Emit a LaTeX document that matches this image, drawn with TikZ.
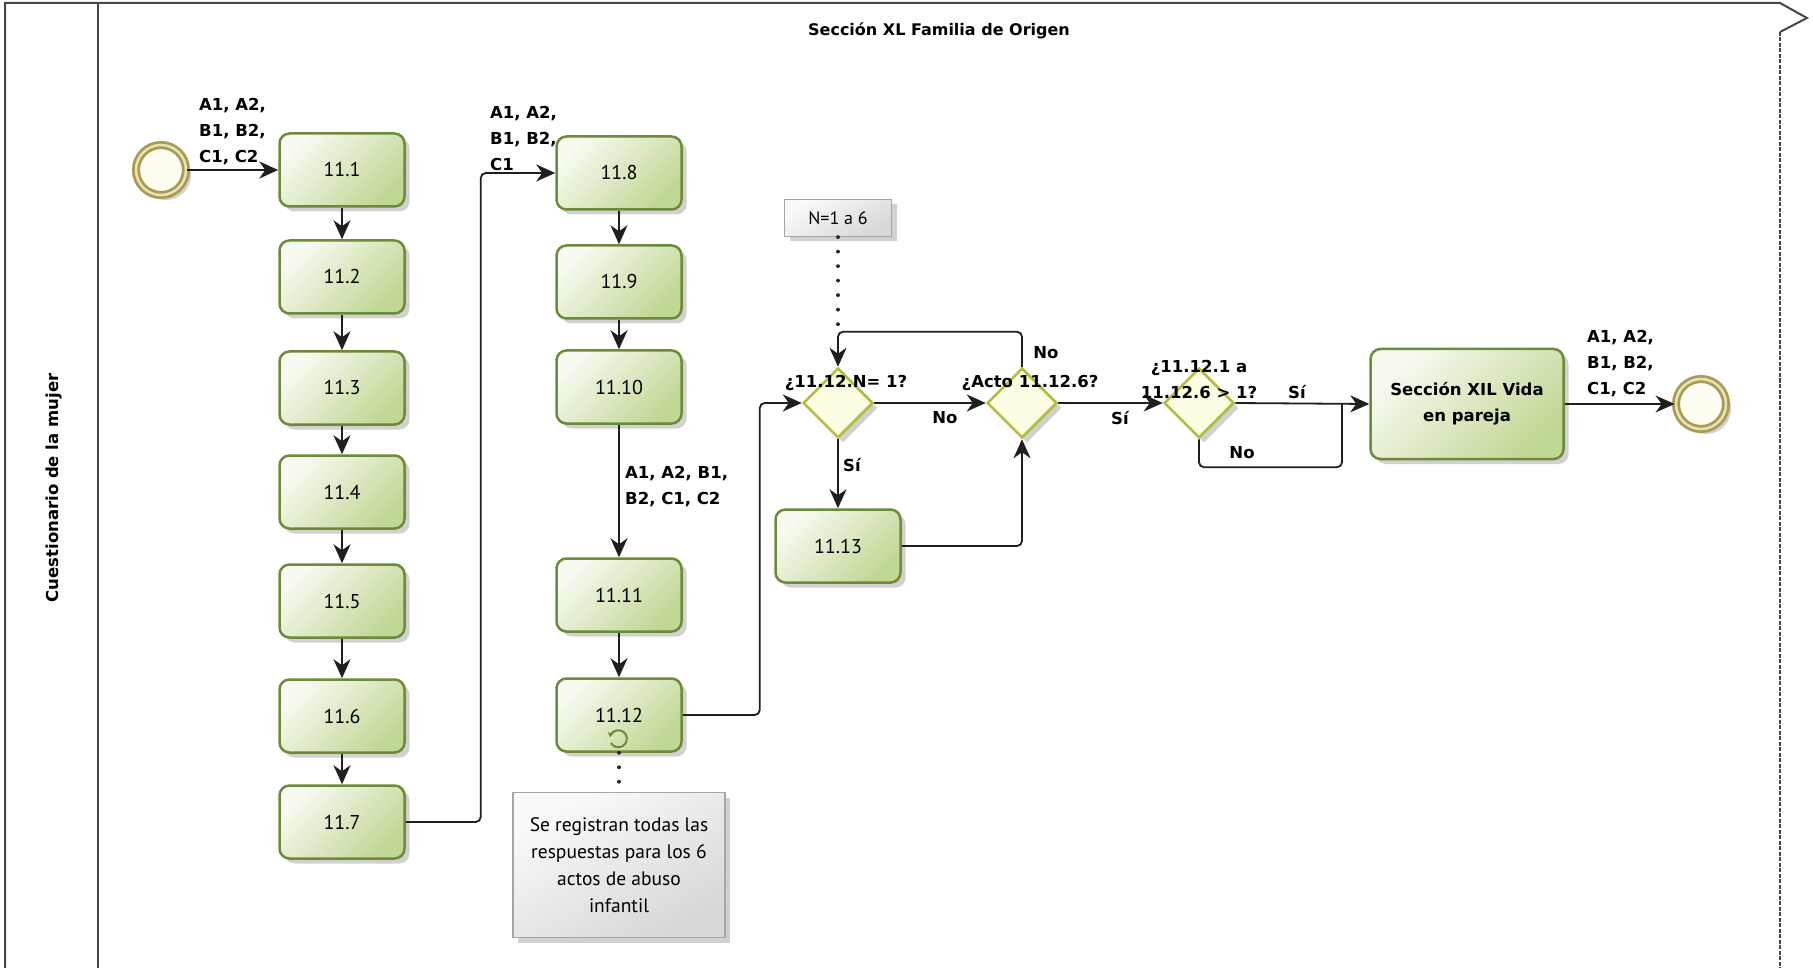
\documentclass[tikz,border=0pt]{standalone}
\usepackage{fontspec}
\setmainfont{PT Sans}
\newfontfamily\labfont{DejaVu Sans}
\usetikzlibrary{shapes.geometric,arrows.meta,shadows,calc}
\definecolor{tborder}{RGB}{108,138,58}
\definecolor{tlight}{RGB}{247,250,241}
\definecolor{tdark}{RGB}{193,215,148}
\definecolor{gborder}{RGB}{184,184,58}
\definecolor{gfill}{RGB}{253,253,228}
\definecolor{eborder}{RGB}{168,156,84}
\definecolor{egap}{RGB}{232,226,180}
\definecolor{efill}{RGB}{255,252,242}
\definecolor{nborder}{RGB}{165,165,165}
\definecolor{nlight}{RGB}{250,250,250}
\definecolor{ndark}{RGB}{215,215,215}
\definecolor{framec}{RGB}{70,70,70}
\begin{document}
\begin{tikzpicture}[x=1pt,y=-1pt,
  shad/.style={drop shadow={shadow xshift=5pt,shadow yshift=-5pt,opacity=0.18,fill=black}},
  task/.style={shad,draw=tborder,line width=2.5pt,rounded corners=10pt,
    minimum width=125pt,minimum height=73pt,inner sep=0pt,
    top color=tlight,bottom color=tdark,shading angle=45,
    font=\fontsize{20}{22}\selectfont},
  gate/.style={shad,diamond,aspect=1,draw=gborder,line width=2.5pt,fill=gfill,
    minimum width=70pt,minimum height=70pt,inner sep=0pt},
  evt/.style={shad,circle,draw=eborder,line width=2.8pt,double=egap,double distance=2.5pt,
    fill=efill,minimum size=50pt,inner sep=0pt},
  annot/.style={shad,draw=nborder,line width=1.2pt,top color=nlight,bottom color=ndark,
    shading angle=30,inner sep=0pt,align=center},
  lab/.style={font=\labfont\bfseries\fontsize{16.5}{26}\selectfont,inner sep=0pt,align=left},
  flow/.style={draw=black!88,line width=1.8pt,rounded corners=5pt,-{Stealth[length=19pt,width=17pt,inset=6pt]}},
  plain/.style={draw=black!88,line width=1.8pt,rounded corners=5pt},
  assoc/.style={draw=black!85,line width=3.8pt,line cap=round,dash pattern=on 0.01pt off 14.5pt}
]
\useasboundingbox (0,0) rectangle (1813,968);

% frame
\draw[framec,line width=2pt] (5,968) -- (5,3) -- (1780,3) -- (1807,18) -- (1780,32);
\draw[framec,line width=1.6pt,dash pattern=on 4pt off 1.5pt] (1780,32) -- (1780,968);
\draw[framec,line width=1.6pt] (98,3) -- (98,968);
\node[lab] (title) at (939,31) {\fontsize{16}{20}\selectfont Sección XL Familia de Origen};
\node[lab,rotate=90] (lane) at (54,488) {Cuestionario de la mujer};

% events
\node[evt] (s) at (161,170) {};
\node[evt] (e) at (1701,404) {};

% column 1
\node[task] (t1) at (342,170) {11.1};
\node[task] (t2) at (342,277) {11.2};
\node[task] (t3) at (342,388) {11.3};
\node[task] (t4) at (342,492) {11.4};
\node[task] (t5) at (342,601) {11.5};
\node[task] (t6) at (342,716) {11.6};
\node[task] (t7) at (342,822) {11.7};

% column 2
\node[task] (t8) at (619,173) {11.8};
\node[task] (t9) at (619,282) {11.9};
\node[task] (t10) at (619,387) {11.10};
\node[task] (t11) at (619,595) {11.11};
\node[task] (t12) at (619,715) {11.12};
\draw[tborder,line width=2pt,-{Stealth[length=5pt,width=6pt]}] (611,743) arc[start angle=150,end angle=-170,radius=8.5];

% annotations
\node[annot,minimum width=212pt,minimum height=145pt,font=\fontsize{19.5}{27}\selectfont] (note) at (619,865)
  {Se registran todas las\\respuestas para los 6\\actos de abuso\\infantil};
\node[annot,minimum width=107pt,minimum height=37pt,font=\fontsize{18}{22}\selectfont] (nN) at (838,218) {N=1 a 6};

% gateways and tasks
\node[gate] (g1) at (838,403) {};
\node[gate] (g2) at (1022,403) {};
\node[gate] (g3) at (1199,403) {};
\node[task] (t13) at (838,546) {11.13};
\node[task,minimum width=193pt,minimum height=110pt,align=center,font=\labfont\bfseries\fontsize{16.5}{26}\selectfont] (x12) at (1467,404) {Sección XIL Vida\\en pareja};

% connectors
\draw[flow] (s) -- (t1);
\draw[flow] (t1) -- (t2);
\draw[flow] (t2) -- (t3);
\draw[flow] (t3) -- (t4);
\draw[flow] (t4) -- (t5);
\draw[flow] (t5) -- (t6);
\draw[flow] (t6) -- (t7);
\draw[flow] (t7.east) -- ++(75,0) |- (t8.west);
\draw[flow] (t8) -- (t9);
\draw[flow] (t9) -- (t10);
\draw[flow] (t10) -- (t11);
\draw[flow] (t11) -- (t12);
\draw[flow] (t12.east) -- ++(77,0) |- (g1.west);
\draw[flow] (g1.east) -- (g2.west);
\draw[flow] (g1.south) -- (t13.north);
\draw[flow] (t13.east) -| (g2.south);
\draw[assoc] (nN.south) -- (838,336);
\draw[flow] (g2.north) -- ++(0,-35) -| (g1.north);
\draw[flow] (g2.east) -- (g3.west);
\draw[flow] (g3.east) -- (x12.west);
\coordinate (m3) at (1342,404);
\draw[plain] (g3.south) -- ++(0,28) -| (m3);
\draw[flow] (x12.east) -- (e.west);
\draw[assoc] (t12.south) -- (note.north);

% labels
\node[lab,anchor=south west] (ls) at (199,165) {A1, A2,\\B1, B2,\\C1, C2};
\node[lab,anchor=south west] (l78) at (490,171) {A1, A2,\\B1, B2,\\C1};
\node[lab,anchor=north west] (l1011) at (625,466) {A1, A2, B1,\\B2, C1, C2};
\node[lab,anchor=south west] (le) at (1587,397) {A1, A2,\\B1, B2,\\C1, C2};
\node[lab] (gl1) at (846,383) {¿11.12.N= 1?};
\node[lab] (gl2) at (1030,383) {¿Acto 11.12.6?};
\node[lab,align=center] (gl3) at (1199,379) {¿11.12.1 a\\11.12.6 > 1?};
\node[lab] (no1) at (945,418) {No};
\node[lab] (no2) at (1046,353) {No};
\node[lab] (no3) at (1242,453) {No};
\node[lab] (si1) at (852,465) {Sí};
\node[lab] (si2) at (1120,418) {Sí};
\node[lab] (si3) at (1297,392) {Sí};
\end{tikzpicture}
\end{document}
